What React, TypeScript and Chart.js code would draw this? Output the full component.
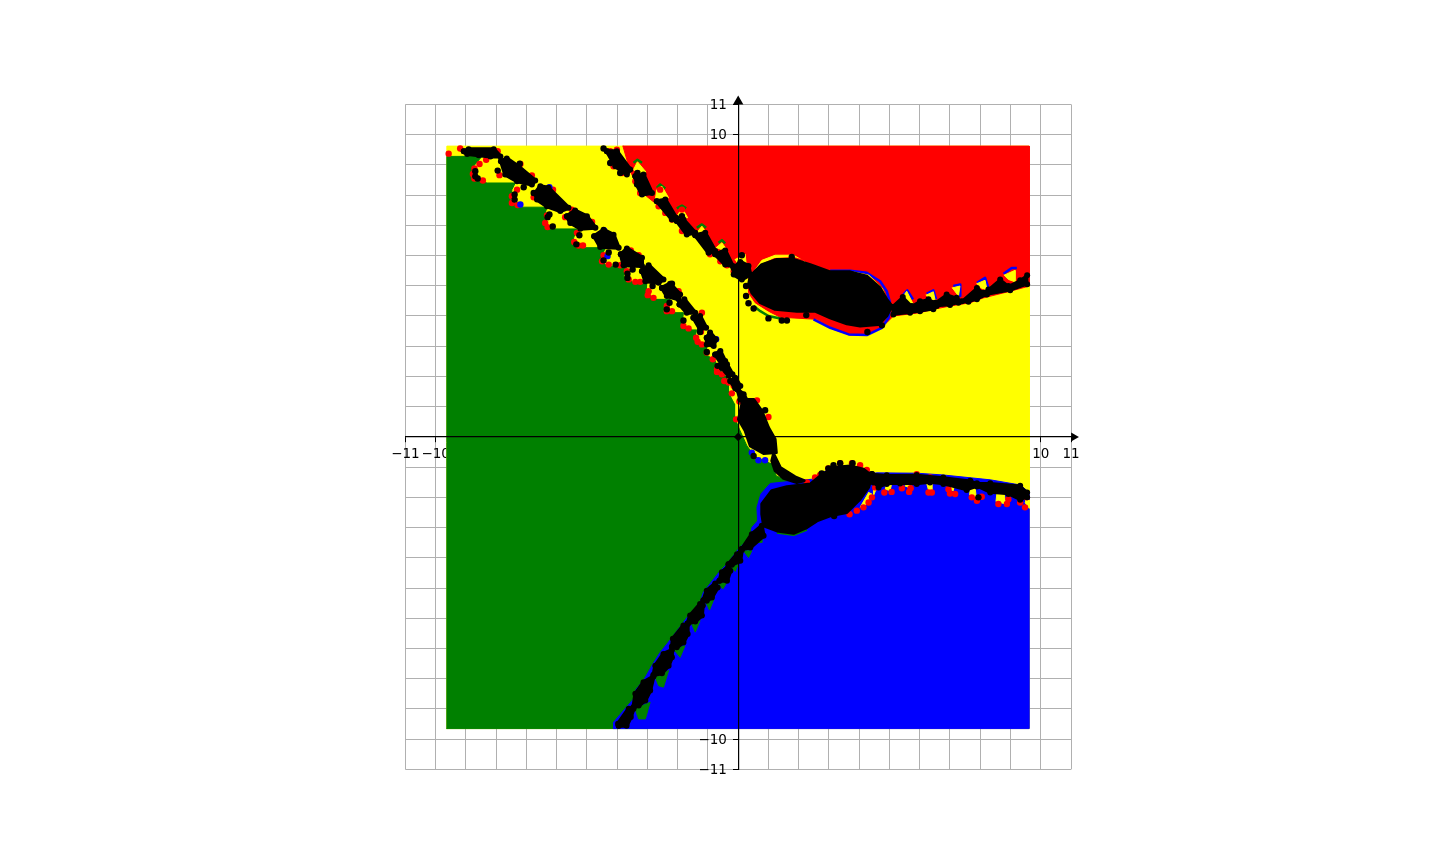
import React, { useEffect, useRef } from "react";
import { Chart, registerables } from "chart.js";

Chart.register(...registerables);

type P = [number, number];

const gridValues = [-11,-10,-9,-8,-7,-6,-5,-4,-3,-2,-1,0,1,2,3,4,5,6,7,8,9,10,11];
const labelledValues = [-11,-10,10,11];

const squareRegion: P[] = [[-9.63,-9.65],[-9.63,9.62],[9.62,9.62],[9.62,-9.65]];

const redRegion: P[] = [[-3.81,9.62],[9.62,9.62],[9.62,4.99],[8.99,4.82],[8.11,4.6],[7.67,4.44],[7.0,4.33],[6.45,4.22],[6.01,4.11],[5.13,4.0],[4.91,3.78],[4.69,3.61],[4.25,3.37],[3.7,3.37],[3.15,3.56],[2.6,3.89],[1.39,3.96],[1.0,4.16],[0.56,4.44],[0.34,4.77],[0.34,5.26],[0.01,5.7],[-0.15,5.54],[-0.76,6.04],[-1.42,6.64],[-2.08,7.14],[-2.69,7.69],[-3.24,8.13],[-3.57,8.79]];

const greenRegion: P[] = [[-9.63,-9.65],[-9.63,9.28],[-8.47,9.28],[-8.8,8.9],[-8.74,8.51],[-8.3,8.4],[-7.37,8.4],[-7.48,8.18],[-7.53,7.85],[-7.2,7.6],[-6.32,7.6],[-6.41,7.3],[-6.35,6.97],[-6.05,6.88],[-5.33,6.88],[-5.46,6.53],[-5.33,6.28],[-5.05,6.26],[-4.39,6.26],[-4.56,5.87],[-4.34,5.65],[-3.68,5.65],[-3.79,5.32],[-3.46,5.1],[-3.02,5.13],[-3.04,4.77],[-2.74,4.55],[-2.25,4.55],[-2.41,4.22],[-2.19,4.11],[-1.81,4.11],[-1.86,3.72],[-1.53,3.54],[-1.37,3.54],[-1.45,3.23],[-1.26,3.04],[-1.04,3.01],[-1.06,2.73],[-0.76,2.51],[-0.7,2.35],[-0.48,2.07],[-0.32,1.85],[-0.32,1.46],[-0.12,1.08],[-0.12,0.64],[0.04,0.25],[0.29,-0.3],[0.56,-0.66],[1.11,-0.9],[1.26,-1.29],[1.61,-1.43],[2.38,-1.51],[2,-5],[-3,-9.65]];

const blueRegion: P[] = [[-4.12,-9.65],[9.62,-9.65],[9.62,-1.84],[9.32,-1.59],[8.33,-1.42],[6.78,-1.26],[5.9,-1.2],[4.58,-1.19],[4.42,-1.21],[4.25,-1.09],[4.03,-1.0],[3.48,-0.96],[2.93,-1.1],[2.43,-1.4],[1.06,-1.54],[0.75,-1.89],[0.62,-2.33],[0.64,-2.78],[0.45,-3.0],[0.4,-3.33],[0.01,-3.71],[-0.35,-4.18],[-0.65,-4.5],[-1.15,-5.14],[-1.26,-5.47],[-1.67,-5.95],[-2.22,-6.68],[-2.6,-7.16],[-2.83,-7.53],[-3.13,-8.06],[-3.37,-8.34],[-3.46,-8.67],[-4.12,-9.44]];

const greenTeeth: P[][] = [
  [[-3.41,-8.99],[-2.91,-8.78],[-3.07,-9.33],[-3.29,-9.33]],
  [[-2.74,-7.95],[-2.3,-7.73],[-2.47,-8.28],[-2.63,-8.23]],
  [[-2.14,-7.02],[-1.76,-6.91],[-1.92,-7.29]],
  [[-1.56,-6.13],[-1.26,-6.08],[-1.42,-6.46]],
  [[-1.09,-5.42],[-0.78,-5.31],[-0.95,-5.73]],
  [[-0.65,-4.85],[-0.37,-4.81],[-0.51,-5.03]],
  [[-0.24,-4.29],[0.01,-4.21],[-0.1,-4.45]],
  [[0.18,-3.77],[0.45,-3.77],[0.34,-3.99]],
  [[0.51,-3.33],[0.78,-3.27],[0.78,-3.49],[0.62,-3.49]],
];

const capsGreen: P[][] = [
  [[-3.46,9.07],[-3.33,9.17],[-3.18,9.07]],
  [[-2.69,8.24],[-2.58,8.35],[-2.41,8.22]],
  [[-2.03,7.56],[-1.86,7.65],[-1.72,7.56]],
  [[-1.37,6.92],[-1.2,7.03],[-1.06,6.92]],
  [[-0.65,6.42],[-0.54,6.51],[-0.43,6.4]],
  [[0.51,4.33],[0.73,4.16],[1.0,4.0],[1.39,3.92]],
  [[1.28,-3.16],[1.83,-3.24],[2.27,-3.07]],
];

const capsBlue: P[][] = [
  [[5.46,4.71],[5.59,4.85],[5.78,4.55]],
  [[6.23,4.74],[6.45,4.85],[6.54,4.55]],
  [[7.11,4.99],[7.34,5.04],[7.34,4.66]],
  [[7.89,5.1],[8.16,5.26],[8.27,4.93]],
  [[8.77,5.4],[9.04,5.59],[9.21,5.59]],
  [[2.49,3.89],[3.04,3.61],[3.65,3.39],[4.25,3.37],[4.75,3.61],[4.97,3.94],[5.02,4.33]],
  [[3.04,5.5],[3.7,5.5],[4.25,5.43],[4.69,5.15],[4.91,4.82],[5.02,4.44]],
];

const redRims: P[][] = [
  [[0.56,5.37],[0.84,5.7],[1.22,5.87],[1.83,5.9],[2.16,5.81]],
];

const yellowRims: P[][] = [
  [[3.81,5.43],[4.31,5.32],[4.75,4.88],[4.91,4.49]],
];

const yellowPatches: P[][] = [
  [[-3.46,8.84],[-3.33,9.1],[-3.07,8.79],[-3.07,8.62],[-3.29,8.68]],
  [[-2.74,7.85],[-2.69,8.18],[-2.52,8.29],[-2.3,7.91],[-2.58,7.88]],
  [[-2.0,7.33],[-1.86,7.58],[-1.67,7.25],[-1.83,7.25]],
  [[-1.37,6.75],[-1.2,6.97],[-1.01,6.7],[-1.2,6.7]],
  [[-0.73,6.26],[-0.54,6.42],[-0.35,6.15],[-0.54,6.2]],
  [[5.44,4.63],[5.57,4.82],[5.79,4.38],[5.63,4.35]],
  [[6.21,4.69],[6.45,4.8],[6.51,4.52],[6.34,4.55]],
  [[7.08,4.93],[7.33,4.99],[7.28,4.66]],
  [[7.89,5.07],[8.16,5.18],[8.22,4.88],[8.05,4.91]],
  [[8.79,5.35],[9.15,5.51],[9.15,5.13],[8.93,5.21]],
  [[-0.1,5.87],[0.23,6.04],[0.26,5.76],[0.01,5.7]],
  [[0.45,5.37],[0.78,5.84],[1.22,6.01],[1.83,6.01],[2.21,5.79],[1.83,5.7],[0.9,5.5]],
  [[4.47,-1.51],[4.58,-1.67],[4.47,-1.95]],
  [[4.91,-1.54],[5.08,-1.51],[5.02,-1.78],[4.86,-1.73]],
  [[5.52,-1.62],[5.74,-1.54],[5.68,-1.7]],
  [[6.23,-1.54],[6.4,-1.51],[6.4,-1.76],[6.29,-1.76]],
  [[6.95,-1.56],[7.14,-1.62],[7.11,-1.78],[6.98,-1.73]],
  [[7.67,-1.67],[7.81,-1.51],[7.87,-2.0],[7.65,-1.92]],
  [[8.55,-1.87],[8.77,-1.78],[8.85,-2.22],[8.52,-2.14]],
  [[9.5,-2.06],[9.62,-2.09],[9.62,-2.36],[9.48,-2.17]],
  [[4.31,-1.84],[4.42,-1.89],[4.25,-2.22],[4.03,-2.33]],
];

const blackLobes: P[][] = [
  [[0.4,5.32],[0.78,5.7],[1.28,5.87],[1.83,5.87],[2.38,5.7],[3.04,5.46],[3.7,5.46],[4.25,5.32],[4.69,4.93],[4.91,4.55],[5.08,4.33],[4.91,4.0],[4.64,3.72],[4.03,3.67],[3.59,3.74],[3.04,3.94],[2.54,4.16],[1.94,4.16],[1.22,4.22],[0.73,4.44],[0.45,4.77],[0.34,5.04]],
  [[0.78,-2.22],[1.11,-1.78],[1.61,-1.65],[2.38,-1.56],[2.71,-1.29],[3.15,-1.01],[3.7,-0.96],[4.14,-1.07],[4.42,-1.29],[4.31,-1.67],[4.03,-2.06],[3.59,-2.5],[3.04,-2.61],[2.6,-2.78],[2.27,-3.0],[1.83,-3.19],[1.28,-3.11],[0.84,-2.94],[0.78,-2.56]],
  [[0.12,1.24],[0.51,1.24],[0.78,0.86],[1.0,0.31],[1.22,-0.08],[1.26,-0.52],[0.84,-0.55],[0.4,-0.3],[0.23,0.2],[0.01,0.58],[0.12,1.08]],
  [[1.17,-0.55],[1.39,-1.01],[1.88,-1.32],[2.18,-1.45],[1.94,-1.51],[1.5,-1.37],[1.22,-1.12],[1.11,-0.79]],
];

const blackRightChains: P[][] = [
  [[5.08,4.3],[5.44,4.63],[5.74,4.33],[6.01,4.49],[6.29,4.55],[6.51,4.44],[6.89,4.71],[7.22,4.6],[7.39,4.49],[7.89,4.93],[8.11,4.77],[8.27,4.88],[8.66,5.21],[8.93,4.99],[9.32,5.18],[9.55,5.35],[9.55,5.05],[8.99,4.85],[8.22,4.71],[7.89,4.55],[7.61,4.47],[7.28,4.44],[7.0,4.36],[6.56,4.33],[6.45,4.22],[6.01,4.16],[5.68,4.11],[5.13,4.05]],
  [[4.42,-1.23],[4.91,-1.27],[5.9,-1.26],[6.78,-1.34],[7.67,-1.45],[7.89,-1.53],[8.33,-1.53],[9.32,-1.62],[9.55,-1.84],[9.55,-2.0],[9.32,-2.08],[8.93,-1.89],[8.33,-1.84],[7.89,-1.64],[7.55,-1.76],[6.78,-1.56],[6.34,-1.51],[5.9,-1.56],[5.35,-1.54],[4.91,-1.56],[4.64,-1.67],[4.47,-1.51]],
];

const blackChains: P[][] = [
  [[-3.95,-9.56],[-3.97,-9.49],[-3.62,-8.99],[-3.46,-8.99],[-3.55,-9.27],[-3.69,-9.56]],
  [[-3.46,-8.94],[-3.4,-8.5],[-3.13,-8.12],[-2.8,-7.93],[-2.91,-8.39],[-3.07,-8.72],[-3.29,-8.89]],
  [[-2.8,-7.88],[-2.74,-7.57],[-2.47,-7.18],[-2.19,-7.05],[-2.19,-7.29],[-2.3,-7.57],[-2.52,-7.82]],
  [[-2.19,-6.94],[-2.16,-6.68],[-1.81,-6.24],[-1.67,-6.19],[-1.67,-6.52],[-1.81,-6.8],[-2.03,-6.96]],
  [[-1.67,-6.17],[-1.59,-5.91],[-1.26,-5.53],[-1.17,-5.58],[-1.2,-5.91],[-1.42,-6.11]],
  [[-1.15,-5.4],[-1.04,-5.09],[-0.76,-4.85],[-0.68,-4.98],[-0.87,-5.31],[-1.04,-5.42]],
  [[-0.62,-4.76],[-0.54,-4.48],[-0.32,-4.29],[-0.26,-4.43],[-0.37,-4.76]],
  [[-0.32,-4.21],[-0.04,-3.88],[0.12,-3.74],[0.07,-4.1],[-0.21,-4.23]],
  [[0.12,-3.71],[0.45,-3.22],[0.78,-2.94],[0.84,-3.27],[0.4,-3.66]],
  [[-9.07,9.45],[-8.91,9.52],[-8.08,9.52],[-7.86,9.28],[-8.19,9.28],[-8.58,9.32],[-8.96,9.36]],
  [[-7.84,9.12],[-7.65,9.21],[-7.27,8.95],[-6.71,8.48],[-6.82,8.35],[-7.31,8.46],[-7.7,8.68]],
  [[-6.71,8.07],[-6.54,8.29],[-6.27,8.24],[-5.61,7.58],[-5.88,7.47],[-6.32,7.63],[-6.65,7.85]],
  [[-5.66,7.3],[-5.39,7.49],[-5.0,7.3],[-4.72,6.92],[-5.22,6.89],[-5.55,7.08]],
  [[-4.76,6.64],[-4.45,6.85],[-4.12,6.69],[-3.95,6.26],[-4.56,6.28]],
  [[-3.88,6.04],[-3.68,6.23],[-3.18,5.93],[-3.18,5.65],[-3.79,5.68]],
  [[-3.18,5.48],[-2.96,5.68],[-2.47,5.21],[-2.63,5.1],[-3.07,5.15]],
  [[-2.52,4.93],[-2.25,5.07],[-1.92,4.71],[-1.97,4.55],[-2.36,4.66]],
  [[-1.94,4.38],[-1.78,4.55],[-1.42,4.11],[-1.7,4.11]],
  [[-1.48,3.94],[-1.26,4.0],[-1.06,3.61],[-1.26,3.56]],
  [[-1.04,3.28],[-0.93,3.45],[-0.74,3.23],[-0.81,3.01],[-1.04,3.06]],
  [[-0.76,2.73],[-0.59,2.84],[-0.43,2.51],[-0.54,2.4]],
  [[-0.54,2.29],[-0.37,2.4],[-0.19,2.07],[-0.32,2.02]],
  [[-0.26,1.85],[-0.1,1.96],[0.07,1.68],[-0.1,1.61]],
  [[-0.02,1.57],[0.18,1.41],[0.29,1.19],[0.07,1.24]],
  [[-4.34,9.45],[-4.01,9.45],[-3.57,8.85],[-3.68,8.68],[-4.06,8.95]],
  [[-3.4,8.62],[-3.13,8.68],[-2.85,8.07],[-3.18,8.02],[-3.35,8.35]],
  [[-2.69,7.8],[-2.41,7.85],[-2.05,7.25],[-2.19,7.19]],
  [[-2.03,7.14],[-1.81,7.19],[-1.42,6.75],[-1.7,6.7]],
  [[-1.42,6.67],[-1.09,6.75],[-0.76,6.15],[-0.98,6.09]],
  [[-0.76,6.04],[-0.43,6.17],[-0.18,5.65],[-0.43,5.7]],
  [[-0.15,5.59],[0.07,5.79],[0.34,5.65],[0.4,5.37],[0.12,5.21],[-0.15,5.37]],
];

const redDots: P[] = [[-9.57,9.37],[-9.19,9.54],[-7.95,9.45],[-8.33,9.17],[-8.55,9.03],[-8.72,8.88],[-8.77,8.7],[-8.72,8.55],[-8.44,8.48],[-7.89,8.66],[-7.2,9.03],[-6.82,8.65],[-7.31,8.18],[-7.48,7.96],[-7.48,7.74],[-7.29,7.67],[-6.76,7.93],[-6.12,8.18],[-5.5,7.52],[-5.72,7.27],[-6.32,7.33],[-6.38,7.08],[-6.3,6.94],[-4.83,7.11],[-5.33,6.75],[-5.42,6.45],[-5.28,6.33],[-5.13,6.33],[-3.55,6.17],[-3.29,6.01],[-4.45,6.01],[-4.5,5.81],[-4.28,5.7],[-3.9,5.68],[-3.68,5.48],[-3.62,5.21],[-3.4,5.13],[-3.24,5.13],[-1.97,4.82],[-2.96,4.82],[-2.99,4.69],[-2.8,4.6],[-2.36,4.33],[-2.36,4.16],[-2.19,4.16],[-1.2,4.11],[-1.81,3.67],[-1.64,3.59],[-1.23,3.48],[-1.39,3.28],[-1.34,3.15],[-1.2,3.06],[-1.04,2.79],[-0.84,2.57],[-0.7,2.24],[-0.54,2.07],[-0.32,1.8],[-0.15,1.69],[-0.04,1.69],
  [-4.23,9.45],[-4.01,9.5],[-4.12,8.95],[-3.84,8.73],[-3.4,8.46],[-3.24,8.07],[-2.63,7.63],[-2.41,7.41],[-2.19,7.19],[-1.86,6.81],[-0.93,6.04],[-0.59,5.81],[-0.37,5.68],[-0.15,5.48],[-1.86,7.52],[-2.58,8.18],
  [2.27,-1.51],[2.54,-1.34],[2.71,-1.26],[2.98,-1.04],[3.37,-0.87],[3.76,-0.87],[4.03,-0.94],[4.25,-1.09],[4.42,-2.0],[4.31,-2.17],[4.14,-2.33],[3.92,-2.44],[3.68,-2.56],[4.53,-1.67],[4.83,-1.84],[5.07,-1.82],[5.41,-1.7],[5.65,-1.82],[5.7,-1.7],[6.29,-1.84],[6.4,-1.84],[6.95,-1.73],[7.0,-1.87],[7.17,-1.89],[7.72,-2.0],[8.05,-1.98],[7.89,-2.11],[8.6,-2.22],[8.88,-2.22],[8.93,-2.06],[9.32,-2.17],[9.48,-2.33],[9.53,-2.0],[6.34,-1.34],[5.08,-1.4],[5.9,-1.23],[0.62,1.21],[1.0,0.66],[-0.07,0.58],[-0.21,1.44],[-0.46,1.85],[-0.7,2.15],[0.04,1.17]];

const blueDots: P[] = [[-6.24,8.26],[-7.2,7.69],[-4.43,6.83],[-4.32,5.98],[-0.73,3.23],[0.45,-0.52],[0.67,-0.77],[0.89,-0.77]];

const blackDots: P[] = [[-8.69,8.79],[-8.69,8.62],[-8.61,8.55],[-7.95,8.81],[-7.22,9.04],[-7.09,8.26],[-6.76,8.07],[-7.39,8.02],[-7.39,7.85],[-6.24,7.36],[-6.3,7.27],[-6.13,6.96],[-5.25,6.67],[-5.35,6.37],[-4.28,6.1],[-4.45,5.84],[-4.05,5.7],[-3.49,5.54],[-3.66,5.4],[-3.66,5.26],[-2.83,4.99],[-2.19,5.07],[-2.27,4.44],[-2.36,4.22],[-1.81,3.85],[-1.26,3.47],[-1.04,2.81],[-0.68,2.35],
  [-4.45,9.54],[-4.23,9.06],[-3.33,8.73],[-1.86,7.3],[-3.9,8.73],
  [0.12,6.01],[0.26,4.99],[0.26,4.66],[0.34,4.42],[0.51,4.25],[1.0,3.92],[1.44,3.85],[1.61,3.85],[2.25,4.03],[4.75,3.69],[4.27,3.47],[1.77,5.95],
  [0.89,0.88],[0.51,-0.63],[2.76,-1.21],[2.98,-1.04],[3.15,-0.94],[3.37,-0.87],[3.78,-0.87],[3.17,-2.62],[7.94,-2.0]];

const originMarker: P[] = [[0, 0]];
const rightArrow: P[] = [[11.09, 0]];
const topArrow: P[] = [[0, 11.1]];

const toXY = (pts: P[]) => pts.map(([x, y]) => ({ x, y }));

const poly = (color: string, pts: P[], w = 1, knob = 0) => ({
  data: toXY([...pts, pts[0]]),
  showLine: true,
  fill: "shape",
  backgroundColor: color,
  borderColor: color,
  borderWidth: w,
  borderJoinStyle: "round",
  borderCapStyle: "round",
  pointRadius: knob,
  pointBackgroundColor: color,
  pointBorderWidth: 0,
  tension: 0,
});
const stroke = (color: string, pts: P[], w: number) => ({
  data: toXY(pts),
  showLine: true,
  fill: false,
  borderColor: color,
  borderWidth: w,
  borderJoinStyle: "round",
  pointRadius: 0,
  tension: 0,
});
const dots = (color: string, pts: P[]) => ({
  data: toXY(pts),
  showLine: false,
  backgroundColor: color,
  borderWidth: 0,
  pointRadius: 3.2,
  clip: false,
});
const marker = (pts: P[], style: string, rotation: number, radius: number) => ({
  data: toXY(pts),
  showLine: false,
  backgroundColor: "#000000",
  borderWidth: 0,
  pointRadius: radius,
  pointStyle: style,
  rotation,
  clip: false,
});

const minus = (v: number) => String(v).replace("-", "\u2212");

const axis = (pos: object, suffix: string, labelOffset: number) => ({
  type: "linear",
  position: pos,
  min: -11,
  max: 11,
  afterBuildTicks: (s: any) => {
    s.ticks = gridValues.map((value) => ({ value }));
  },
  ticks: {
    autoSkip: false,
    maxRotation: 0,
    padding: 4,
    labelOffset,
    color: "#000000",
    font: { family: "DejaVu Sans", size: 13.5 },
    callback: (v: number) => (labelledValues.includes(v) ? minus(v) + suffix : ""),
  },
  grid: {
    color: "#b0b0b0",
    lineWidth: 1,
    tickLength: 5,
    tickColor: (c: any) =>
      labelledValues.includes(c.tick?.value) ? "#000000" : "rgba(0,0,0,0)",
    z: -1,
  },
  border: { display: true, color: "#000000", width: 1.2, z: 2 },
});

export default function App() {
  const ref = useRef<HTMLCanvasElement>(null);
  useEffect(() => {
    const paintOrder: any[] = [
      poly("#ffff00", squareRegion),
      poly("#ff0000", redRegion),
      poly("#008000", greenRegion),
      poly("#0000ff", blueRegion),
      ...greenTeeth.map((p) => poly("#008000", p)),
      ...capsGreen.map((p) => stroke("#008000", p, 2.5)),
      ...capsBlue.map((p) => stroke("#0000ff", p, 2.5)),
      ...yellowPatches.map((p) => poly("#ffff00", p)),
      ...yellowRims.map((p) => stroke("#ffff00", p, 2.5)),
      ...redRims.map((p) => stroke("#ff0000", p, 3)),
      dots("#ff0000", redDots),
      dots("#0000ff", blueDots),
      ...blackLobes.map((p) => poly("#000000", p, 3)),
      ...blackRightChains.map((p) => poly("#000000", p, 2.5, 3)),
      ...blackChains.map((p) => poly("#000000", p, 4, 3)),
      dots("#000000", blackDots),
      marker(originMarker, "rectRot", 0, 4.3),
      marker(rightArrow, "triangle", 90, 5.2),
      marker(topArrow, "triangle", 0, 6),
    ];
    const chart = new Chart(ref.current as HTMLCanvasElement, {
      type: "scatter",
      data: { datasets: paintOrder.slice().reverse() },
      options: {
        animation: false,
        responsive: false,
        events: [],
        layout: { padding: { left: 405.4, right: 369, top: 104.4, bottom: 94.6 } },
        plugins: { legend: { display: false }, tooltip: { enabled: false } },
        scales: {
          x: axis({ y: 0 }, "", 0),
          y: axis({ x: 0 }, "\u00a0\u00a0\u2009", 1),
        },
      } as any,
    } as any);
    return () => chart.destroy();
  }, []);
  return (
    <div style={{ position: "fixed", left: 0, top: 0, width: 1440, height: 864, background: "#fff" }}>
      <canvas ref={ref} width={1440} height={864} style={{ display: "block" }} />
    </div>
  );
}
